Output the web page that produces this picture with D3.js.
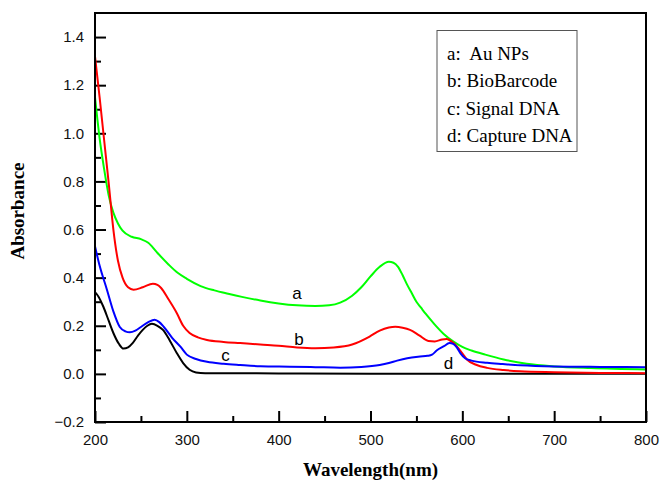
<!DOCTYPE html>
<html>
<head>
<meta charset="utf-8">
<script src="https://cdn.jsdelivr.net/npm/d3@7"></script>
<style>
  html, body { margin: 0; padding: 0; background: #fff; }
  svg { display: block; }
</style>
</head>
<body>
<svg id="chart" width="661" height="482"></svg>
<script>
// UV-Vis absorbance spectra (wavelength in nm, absorbance)
const wavelengthsA = [200,205,210,215,220,225,230,240,250,258,267,280,290,300,315,330,345,360,380,400,420,440,455,467,480,490,500,510,520,525,530,535,540,545,550,555,560,570,580,590,600,610,625,645,670,700,740,800];
const auNPs        = [1.15,0.98,0.85,0.74,0.67,0.625,0.595,0.57,0.56,0.545,0.507,0.455,0.42,0.395,0.365,0.347,0.333,0.32,0.305,0.293,0.285,0.282,0.285,0.296,0.325,0.36,0.405,0.445,0.466,0.462,0.445,0.41,0.37,0.335,0.30,0.275,0.25,0.205,0.165,0.135,0.112,0.097,0.08,0.06,0.042,0.031,0.024,0.018];

const wavelengthsB = [200,205,210,215,220,225,230,236,242,252,263,268,272,280,289,296,303,312,322,340,358,380,400,420,440,460,480,499,510,520,527,535,543,553,563,570,578,583,588,594,600,605,615,627,645,663,700,750,800];
const bioBarcode   = [1.32,1.15,0.97,0.79,0.60,0.47,0.40,0.36,0.35,0.36,0.375,0.37,0.357,0.31,0.253,0.20,0.17,0.152,0.141,0.133,0.128,0.122,0.117,0.11,0.107,0.11,0.122,0.155,0.18,0.193,0.196,0.192,0.183,0.16,0.137,0.135,0.143,0.145,0.135,0.114,0.085,0.06,0.038,0.025,0.016,0.011,0.007,0.004,0.003];

const wavelengthsC = [200,205,213,220,227,233,238,244,250,258,265,270,275,284,293,300,310,322,340,358,380,412,440,467,490,510,520,529,540,554,562,567,572,580,586,590,594,598,603,610,627,644,663,700,750,800];
const signalDNA    = [0.53,0.45,0.35,0.26,0.195,0.177,0.173,0.18,0.195,0.215,0.225,0.215,0.195,0.15,0.113,0.08,0.062,0.05,0.042,0.037,0.032,0.03,0.028,0.026,0.029,0.037,0.045,0.055,0.065,0.072,0.075,0.08,0.097,0.115,0.128,0.125,0.11,0.085,0.065,0.055,0.046,0.041,0.036,0.031,0.029,0.028];

const wavelengthsD = [200,204,209,215,220,226,231,236,241,247,252,257,262,268,274,282,289,296,303,310,320,400,500,600,700,800];
const captureDNA   = [0.34,0.32,0.28,0.22,0.17,0.125,0.105,0.11,0.128,0.16,0.183,0.2,0.208,0.2,0.183,0.135,0.087,0.045,0.017,0.006,0.003,0.002,0.001,0.001,0.001,0.001];

const legendLabels = ["a:  Au NPs", "b: BioBarcode", "c: Signal DNA", "d: Capture DNA"];
const xTicks = [200, 300, 400, 500, 600, 700, 800];
const yTicks = [-0.2, 0.0, 0.2, 0.4, 0.6, 0.8, 1.0, 1.2, 1.4];

const series = [
  { tag: "d", x: wavelengthsD, y: captureDNA, color: "#000000", labelAt: [585, 0.02] },
  { tag: "a", x: wavelengthsA, y: auNPs,      color: "#00ff00", labelAt: [420, 0.31] },
  { tag: "b", x: wavelengthsB, y: bioBarcode, color: "#ff0000", labelAt: [422, 0.12] },
  { tag: "c", x: wavelengthsC, y: signalDNA,  color: "#0000ff", labelAt: [342, 0.055] }
];

const svg = d3.select("#chart");
const margin = { left: 95, right: 15, top: 13, bottom: 60 };
const W = 661, H = 482;
const x = d3.scaleLinear().domain([200, 800]).range([margin.left, W - margin.right]);
const y = d3.scaleLinear().domain([-0.2, 1.5]).range([H - margin.bottom, margin.top]);

svg.append("defs").append("clipPath").attr("id", "plotClip")
  .append("rect")
  .attr("x", x(200)).attr("y", y(1.5))
  .attr("width", x(800) - x(200)).attr("height", y(-0.2) - y(1.5));

// x axis: minor then major ticks, pointing inward
const gx = svg.append("g").attr("transform", `translate(0,${y(-0.2)})`);
gx.call(d3.axisBottom(x).tickValues(d3.range(250, 800, 100)).tickSize(-6).tickFormat(""));
gx.call(g => g.select(".domain").remove());
const gx2 = svg.append("g").attr("transform", `translate(0,${y(-0.2)})`);
gx2.call(d3.axisBottom(x).tickValues(xTicks).tickSize(-11).tickPadding(12).tickFormat(d3.format("d")));
gx2.call(g => g.select(".domain").remove());

// y axis
const gy = svg.append("g").attr("transform", `translate(${x(200)},0)`);
gy.call(d3.axisLeft(y).tickValues(d3.range(-0.1, 1.5, 0.2)).tickSize(-6).tickFormat(""));
gy.call(g => g.select(".domain").remove());
const gy2 = svg.append("g").attr("transform", `translate(${x(200)},0)`);
gy2.call(d3.axisLeft(y).tickValues(yTicks).tickSize(-11).tickPadding(11).tickFormat(d3.format(".1f")));
gy2.call(g => g.select(".domain").remove());

svg.selectAll(".tick line").attr("stroke", "#000").attr("stroke-width", 2);
svg.selectAll(".tick text")
  .attr("font-family", "Liberation Sans, Arial, sans-serif")
  .attr("font-size", 15).attr("fill", "#111");

// spectra
const line = d3.line().x(d => x(d[0])).y(d => y(d[1])).curve(d3.curveMonotoneX);
const plot = svg.append("g").attr("clip-path", "url(#plotClip)");
series.forEach(s => {
  plot.append("path")
    .datum(s.x.map((w, i) => [w, s.y[i]]))
    .attr("d", line)
    .attr("fill", "none")
    .attr("stroke", s.color)
    .attr("stroke-width", 2)
    .attr("stroke-linejoin", "round");
});

// curve tags
svg.selectAll("text.tag").data(series).join("text")
  .attr("class", "tag")
  .attr("x", d => x(d.labelAt[0]))
  .attr("y", d => y(d.labelAt[1]))
  .attr("text-anchor", "middle")
  .attr("font-family", "Liberation Sans, Arial, sans-serif")
  .attr("font-size", 17)
  .attr("fill", "#000")
  .text(d => d.tag);

// frame
svg.append("rect")
  .attr("x", x(200)).attr("y", y(1.5))
  .attr("width", x(800) - x(200)).attr("height", y(-0.2) - y(1.5))
  .attr("fill", "none").attr("stroke", "#000").attr("stroke-width", 2);

// legend
const lg = svg.append("g");
lg.append("rect")
  .attr("x", 437).attr("y", 30.5).attr("width", 140).attr("height", 121)
  .attr("fill", "#fff").attr("stroke", "#555").attr("stroke-width", 1);
lg.selectAll("text").data(legendLabels).join("text")
  .attr("x", 447)
  .attr("y", (d, i) => 60 + i * 27.3)
  .attr("font-family", "Liberation Serif, Times New Roman, serif")
  .attr("font-size", 19)
  .attr("fill", "#000")
  .attr("xml:space", "preserve")
  .style("white-space", "pre")
  .text(d => d);

// axis titles
svg.append("text")
  .attr("x", (x(200) + x(800)) / 2).attr("y", 476)
  .attr("text-anchor", "middle")
  .attr("font-family", "Liberation Serif, Times New Roman, serif")
  .attr("font-weight", "bold").attr("font-size", 19)
  .text("Wavelength(nm)");
svg.append("text")
  .attr("transform", "translate(24,211) rotate(-90)")
  .attr("text-anchor", "middle")
  .attr("font-family", "Liberation Serif, Times New Roman, serif")
  .attr("font-weight", "bold").attr("font-size", 19)
  .text("Absorbance");
</script>
</body>
</html>
